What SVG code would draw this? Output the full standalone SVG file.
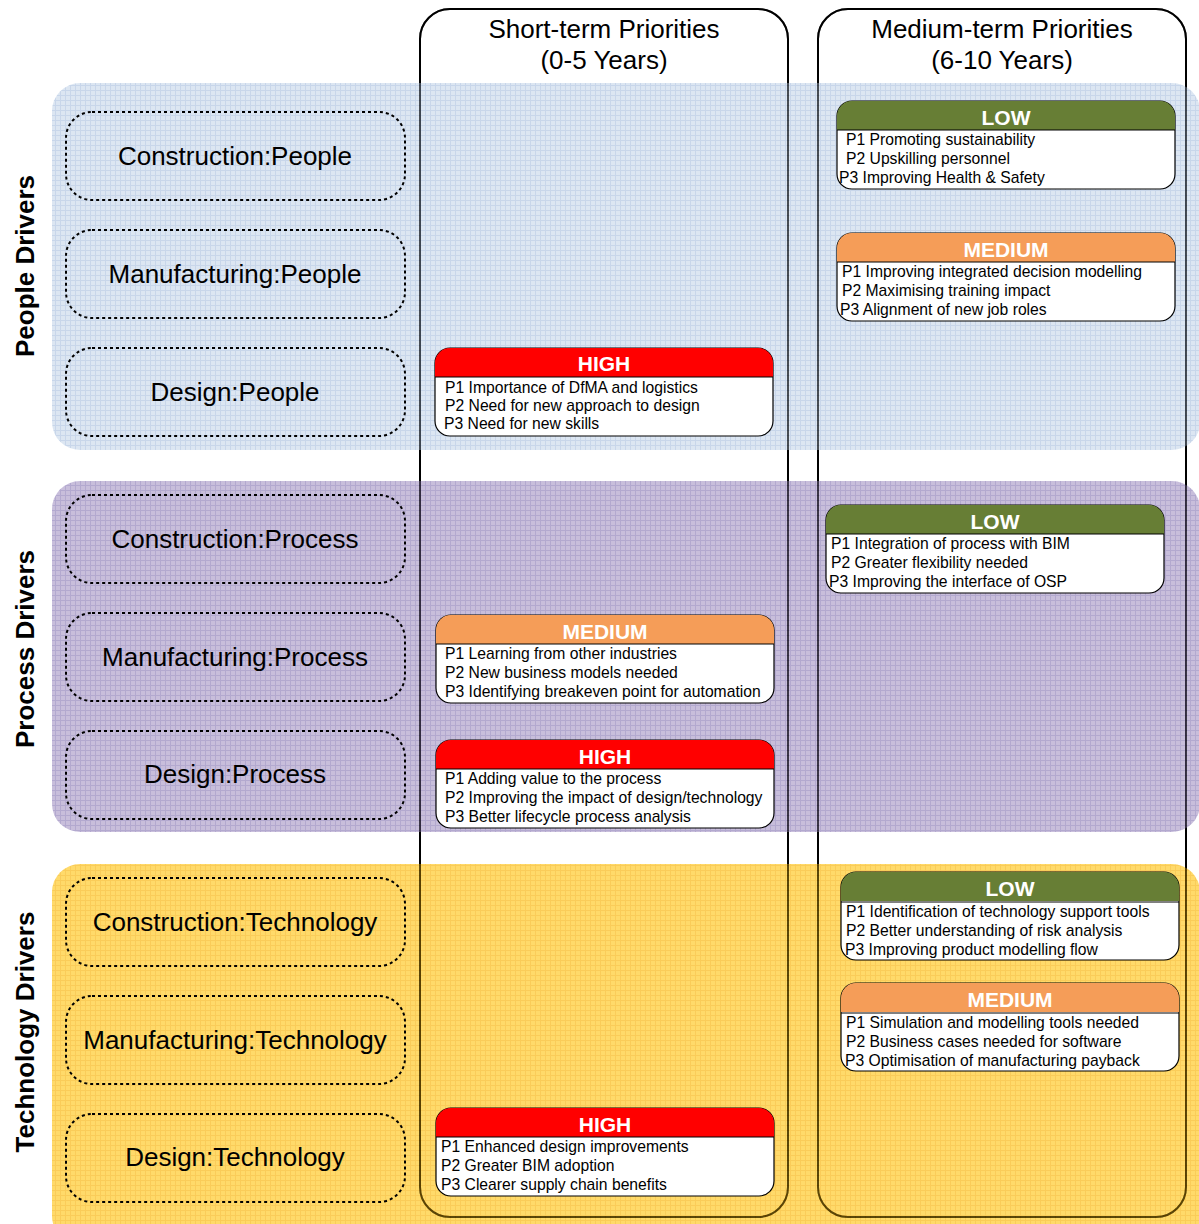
<svg xmlns="http://www.w3.org/2000/svg" width="1199" height="1224" viewBox="0 0 1199 1224">
  <defs>
    <pattern id="grid-blue" patternUnits="userSpaceOnUse" width="5" height="5">
      <rect width="5" height="5" fill="#C9D9EB"/>
      <path d="M0 0.5H5M0.5 0V5" stroke="#AAC0DF" stroke-width="1"/>
    </pattern>
    <pattern id="grid-purple" patternUnits="userSpaceOnUse" width="5" height="5">
      <rect width="5" height="5" fill="#AA9BC8"/>
      <path d="M0 0.5H5M0.5 0V5" stroke="#8A7AB5" stroke-width="1"/>
    </pattern>
    <pattern id="grid-yellow" patternUnits="userSpaceOnUse" width="5" height="5">
      <rect width="5" height="5" fill="#FFC61A"/>
      <path d="M0 0.5H5M0.5 0V5" stroke="#F7B000" stroke-width="1"/>
    </pattern>
    <path id="hdr" d="M0 29V15A15 15 0 0 1 15 0H323A15 15 0 0 1 338 15V29Z"/>
    <rect id="frame-shape" width="368" height="1208" rx="30"/>
  </defs>
  <style>
    text { font-family: "Liberation Sans", Arial, sans-serif; fill: #000; }
    .frame { fill: #fff; stroke: #000; stroke-width: 2; }
    .frame-edge { fill: none; stroke: #000; stroke-width: 2; stroke-opacity: 0.45; }
    .band { opacity: 0.65; }
    .driver { font-size: 26px; font-weight: bold; text-anchor: middle; }
    .topic rect { fill: none; stroke: #000; stroke-width: 2; stroke-dasharray: 3 3; }
    .topic text { font-size: 26px; text-anchor: middle; }
    .title { font-size: 26px; text-anchor: middle; }
    .card .body { fill: #fff; stroke: #000; stroke-width: 1.2; }
    .card .sep { stroke: #000; stroke-width: 1; }
    .card .lvl { font-size: 21px; font-weight: bold; fill: #fff; text-anchor: middle; }
    .card .item { font-size: 15.7px; }
    .high { fill: #FF0000; }
    .medium { fill: #F59D58; }
    .low { fill: #677E35; }
  </style>

  <!-- column frames -->
  <g id="col-short">
    <use href="#frame-shape" class="frame" x="420" y="9"/>
    <text class="title" x="604" y="38">Short-term Priorities</text>
    <text class="title" x="604" y="69">(0-5 Years)</text>
  </g>
  <g id="col-medium">
    <use href="#frame-shape" class="frame" x="818" y="9"/>
    <text class="title" x="1002" y="38">Medium-term Priorities</text>
    <text class="title" x="1002" y="69">(6-10 Years)</text>
  </g>

  <!-- driver bands -->
  <rect id="band-people" class="band" x="52" y="83" width="1148" height="367" rx="28" fill="url(#grid-blue)"/>
  <rect id="band-process" class="band" x="52" y="481" width="1148" height="351" rx="28" fill="url(#grid-purple)"/>
  <rect id="band-technology" class="band" x="52" y="864" width="1148" height="380" rx="28" fill="url(#grid-yellow)"/>

  <!-- frame edges showing through the bands -->
  <use href="#frame-shape" class="frame-edge" x="420" y="9"/>
  <use href="#frame-shape" class="frame-edge" x="818" y="9"/>

  <!-- driver labels -->
  <text class="driver" transform="translate(34 266) rotate(-90)">People Drivers</text>
  <text class="driver" transform="translate(34 649) rotate(-90)">Process Drivers</text>
  <text class="driver" transform="translate(34 1032) rotate(-90)">Technology Drivers</text>

  <!-- topic boxes -->
  <g id="construction-people" class="topic"><rect x="66" y="112" width="339" height="88" rx="26"/><text x="235" y="165">Construction:People</text></g>
  <g id="manufacturing-people" class="topic"><rect x="66" y="230" width="339" height="88" rx="26"/><text x="235" y="283">Manufacturing:People</text></g>
  <g id="design-people" class="topic"><rect x="66" y="348" width="339" height="88" rx="26"/><text x="235" y="401">Design:People</text></g>
  <g id="construction-process" class="topic"><rect x="66" y="495" width="339" height="88" rx="26"/><text x="235" y="548">Construction:Process</text></g>
  <g id="manufacturing-process" class="topic"><rect x="66" y="613" width="339" height="88" rx="26"/><text x="235" y="666">Manufacturing:Process</text></g>
  <g id="design-process" class="topic"><rect x="66" y="731" width="339" height="88" rx="26"/><text x="235" y="783">Design:Process</text></g>
  <g id="construction-technology" class="topic"><rect x="66" y="878" width="339" height="88" rx="26"/><text x="235" y="931">Construction:Technology</text></g>
  <g id="manufacturing-technology" class="topic"><rect x="66" y="996" width="339" height="88" rx="26"/><text x="235" y="1049">Manufacturing:Technology</text></g>
  <g id="design-technology" class="topic"><rect x="66" y="1114" width="339" height="88" rx="26"/><text x="235" y="1166">Design:Technology</text></g>

  <!-- priority cards -->
  <g id="people-short-high" class="card" transform="translate(435 348)">
    <rect class="body" width="338" height="88" rx="15"/>
    <use href="#hdr" class="high"/>
    <line class="sep" x1="0" y1="29" x2="338" y2="29"/>
    <text class="lvl" x="169" y="23">HIGH</text>
    <text class="item" x="10" y="45">P1 Importance of DfMA and logistics</text>
    <text class="item" x="10" y="63">P2 Need for new approach to design</text>
    <text class="item" x="9" y="81">P3 Need for new skills</text>
  </g>
  <g id="people-medium-low" class="card" transform="translate(837 101)">
    <rect class="body" width="338" height="88" rx="15"/>
    <use href="#hdr" class="low"/>
    <line class="sep" x1="0" y1="29" x2="338" y2="29"/>
    <text class="lvl" x="169" y="24">LOW</text>
    <text class="item" x="9" y="44">P1 Promoting sustainability</text>
    <text class="item" x="9" y="63">P2 Upskilling personnel</text>
    <text class="item" x="2" y="82">P3 Improving Health &amp; Safety</text>
  </g>
  <g id="people-medium-medium" class="card" transform="translate(837 233)">
    <rect class="body" width="338" height="88" rx="15"/>
    <use href="#hdr" class="medium"/>
    <line class="sep" x1="0" y1="29" x2="338" y2="29"/>
    <text class="lvl" x="169" y="24">MEDIUM</text>
    <text class="item" x="5" y="44">P1 Improving integrated decision modelling</text>
    <text class="item" x="5" y="63">P2 Maximising training impact</text>
    <text class="item" x="3" y="82">P3 Alignment of new job roles</text>
  </g>
  <g id="process-medium-low" class="card" transform="translate(826 505)">
    <rect class="body" width="338" height="88" rx="15"/>
    <use href="#hdr" class="low"/>
    <line class="sep" x1="0" y1="29" x2="338" y2="29"/>
    <text class="lvl" x="169" y="24">LOW</text>
    <text class="item" x="5" y="44">P1 Integration of process with BIM</text>
    <text class="item" x="5" y="63">P2 Greater flexibility needed</text>
    <text class="item" x="3" y="82">P3 Improving the interface of OSP</text>
  </g>
  <g id="process-short-medium" class="card" transform="translate(436 615)">
    <rect class="body" width="338" height="88" rx="15"/>
    <use href="#hdr" class="medium"/>
    <line class="sep" x1="0" y1="29" x2="338" y2="29"/>
    <text class="lvl" x="169" y="24">MEDIUM</text>
    <text class="item" x="9" y="44">P1 Learning from other industries</text>
    <text class="item" x="9" y="63">P2 New business models needed</text>
    <text class="item" x="9" y="82">P3 Identifying breakeven point for automation</text>
  </g>
  <g id="process-short-high" class="card" transform="translate(436 740)">
    <rect class="body" width="338" height="88" rx="15"/>
    <use href="#hdr" class="high"/>
    <line class="sep" x1="0" y1="29" x2="338" y2="29"/>
    <text class="lvl" x="169" y="24">HIGH</text>
    <text class="item" x="9" y="44">P1 Adding value to the process</text>
    <text class="item" x="9" y="63">P2 Improving the impact of design/technology</text>
    <text class="item" x="9" y="82">P3 Better lifecycle process analysis</text>
  </g>
  <g id="technology-medium-low" class="card" transform="translate(841 872)">
    <rect class="body" width="338" height="88" rx="15"/>
    <use href="#hdr" class="low"/>
    <line class="sep" x1="0" y1="30" x2="338" y2="30"/>
    <text class="lvl" x="169" y="24">LOW</text>
    <text class="item" x="5" y="45">P1 Identification of technology support tools</text>
    <text class="item" x="5" y="64">P2 Better understanding of risk analysis</text>
    <text class="item" x="4" y="83">P3 Improving product modelling flow</text>
  </g>
  <g id="technology-medium-medium" class="card" transform="translate(841 983)">
    <rect class="body" width="338" height="88" rx="15"/>
    <use href="#hdr" class="medium"/>
    <line class="sep" x1="0" y1="30" x2="338" y2="30"/>
    <text class="lvl" x="169" y="24">MEDIUM</text>
    <text class="item" x="5" y="45">P1 Simulation and modelling tools needed</text>
    <text class="item" x="5" y="64">P2 Business cases needed for software</text>
    <text class="item" x="4" y="83">P3 Optimisation of manufacturing payback</text>
  </g>
  <g id="technology-short-high" class="card" transform="translate(436 1108)">
    <rect class="body" width="338" height="88" rx="15"/>
    <use href="#hdr" class="high"/>
    <line class="sep" x1="0" y1="29" x2="338" y2="29"/>
    <text class="lvl" x="169" y="24">HIGH</text>
    <text class="item" x="5" y="44">P1 Enhanced design improvements</text>
    <text class="item" x="5" y="63">P2 Greater BIM adoption</text>
    <text class="item" x="5" y="82">P3 Clearer supply chain benefits</text>
  </g>

  <!-- no connectors in this chart -->
  <g id="connectors"/>
</svg>
